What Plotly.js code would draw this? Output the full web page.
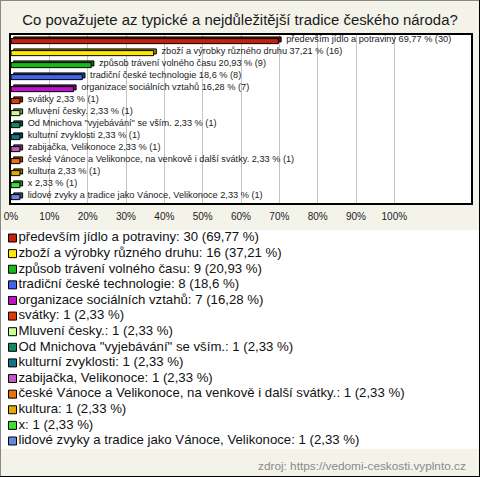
<!DOCTYPE html>
<html>
<head>
<meta charset="utf-8">
<script src="https://cdn.plot.ly/plotly-3.0.1.min.js"></script>
<style>
  html, body { margin: 0; padding: 0; background: #f3f3ea; }
  #chart { width: 480px; height: 477px; }
</style>
</head>
<body>
<div id="chart"></div>
<script>
const titleText = "Co považujete az typické a nejdůležitější tradice českého národa?";
const categories = [
  "především jídlo a potraviny",
  "zboží a výrobky různého druhu",
  "způsob trávení volného času",
  "tradiční české technologie",
  "organizace sociálních vztahů",
  "svátky",
  "Mluvení česky.",
  "Od Mnichova \"vyjebávání\" se vším.",
  "kulturní zvyklosti",
  "zabijačka, Velikonoce",
  "české Vánoce a Velikonoce, na venkově i další svátky.",
  "kultura",
  "x",
  "lidové zvyky a tradice jako Vánoce, Velikonoce"
];
const counts = [30, 16, 9, 8, 7, 1, 1, 1, 1, 1, 1, 1, 1, 1];
const percents = [69.77, 37.21, 20.93, 18.6, 16.28, 2.33, 2.33, 2.33, 2.33, 2.33, 2.33, 2.33, 2.33, 2.33];
const colors = [
  "#c4200c", "#ffe800", "#18b818", "#3f66ea", "#c011c8", "#e03a0a", "#c8ff90",
  "#138a5e", "#137488", "#c058c4", "#e8720c", "#e0aa00", "#40e030", "#6688dd"
];
const tickValues = [0, 10, 20, 30, 40, 50, 60, 70, 80, 90, 100];
const sourceText = "zdroj: https://vedomi-ceskosti.vyplnto.cz";

const fmt = v => String(v).replace(".", ",");
const barLabels = categories.map((c, i) => "\u00a0\u00a0" + c + " " + fmt(percents[i]) + " % (" + counts[i] + ")");
const legendLabels = categories.map((c, i) => c + ": " + counts[i] + " (" + fmt(percents[i]) + " %)");

function darken(hex, f) {
  const n = parseInt(hex.slice(1), 16);
  const r = Math.round(((n >> 16) & 255) * f), g = Math.round(((n >> 8) & 255) * f), b = Math.round((n & 255) * f);
  return "rgb(" + r + "," + g + "," + b + ")";
}
const shadowColors = colors.map(c => darken(c, 0.6));

const W = 480, H = 477;
const px = x => x / W;
const py = y => 1 - y / H;
const nCat = categories.length;

const font = "Liberation Sans, Arial, sans-serif";

const shadow = {
  type: "bar", orientation: "h",
  x: percents, y: categories,
  base: 0.7,
  width: 0.42, offset: -0.34,
  marker: { color: shadowColors, line: { color: "#000", width: 1 } },
  text: barLabels, textposition: "outside", constraintext: "none", cliponaxis: false,
  textfont: { family: font, size: 9.2, color: "#1a1a1a" },
  hoverinfo: "skip", showlegend: false, xaxis: "x", yaxis: "y"
};
const bars = {
  type: "bar", orientation: "h",
  x: percents, y: categories,
  width: 0.42, offset: -0.2,
  marker: { color: colors, line: { color: "#000", width: 1 } },
  showlegend: false, xaxis: "x", yaxis: "y"
};
const legend = {
  type: "scatter", mode: "markers+text",
  x: categories.map(() => 0), y: categories,
  marker: { symbol: "square", size: 8, color: colors, line: { color: "#000", width: 1 } },
  text: legendLabels, textposition: "middle right",
  textfont: { family: font, size: 13.2, color: "#111" },
  cliponaxis: false, showlegend: false, hoverinfo: "skip",
  xaxis: "x2", yaxis: "y2"
};

const layout = {
  width: W, height: H,
  margin: { l: 0, r: 0, t: 0, b: 0 },
  paper_bgcolor: "#f3f3ea", plot_bgcolor: "#ffffff",
  font: { family: font, color: "#222" },
  barmode: "overlay",
  showlegend: false,
  title: {
    text: titleText, x: 0.5, xanchor: "center", xref: "paper",
    y: py(20), yanchor: "middle", yref: "container",
    font: { family: font, size: 14.9, color: "#1a1a1a" }
  },
  xaxis: {
    domain: [px(11), px(471)], range: [0, 120],
    tickmode: "array", tickvals: tickValues, ticktext: tickValues.map(v => v + "%"),
    showgrid: true, gridcolor: "#c4c4c4", gridwidth: 1,
    showline: true, mirror: true, linecolor: "#000", linewidth: 2,
    zeroline: false, ticks: "", ticklen: 0, ticklabelstandoff: 3,
    tickfont: { family: font, size: 10, color: "#222" },
    fixedrange: true
  },
  yaxis: {
    domain: [py(203), py(35)], type: "category", range: [nCat - 0.5, -0.5],
    showticklabels: false, showgrid: false, zeroline: false,
    showline: true, mirror: true, linecolor: "#000", linewidth: 2, ticks: "",
    fixedrange: true
  },
  xaxis2: {
    domain: [0, 1], range: [-12.5, 467.5], anchor: "y2",
    visible: false, fixedrange: true
  },
  yaxis2: {
    domain: [py(448.8), py(230.2)], type: "category", range: [nCat - 0.5, -0.5],
    anchor: "x2", visible: false, fixedrange: true
  },
  annotations: [{
    text: sourceText, xref: "paper", yref: "paper",
    x: px(468), xanchor: "right", y: py(466), yanchor: "middle",
    showarrow: false, font: { family: font, size: 11.8, color: "#8a8a8a" }
  }],
  shapes: [
    { type: "line", xref: "paper", yref: "paper", x0: 0, x1: 1, y0: 1, y1: 1, line: { color: "#888", width: 2 } },
    { type: "line", xref: "paper", yref: "paper", x0: 0, x1: 0, y0: 0, y1: 1, line: { color: "#888", width: 2 } },
    { type: "line", xref: "paper", yref: "paper", x0: 1, x1: 1, y0: 0, y1: 1, line: { color: "#000", width: 2 } },
    { type: "line", xref: "paper", yref: "paper", x0: 0, x1: 1, y0: 0, y1: 0, line: { color: "#000", width: 2 } }
  ]
};

Plotly.newPlot("chart", [shadow, bars, legend], layout, { displayModeBar: false, staticPlot: true });
</script>
</body>
</html>
